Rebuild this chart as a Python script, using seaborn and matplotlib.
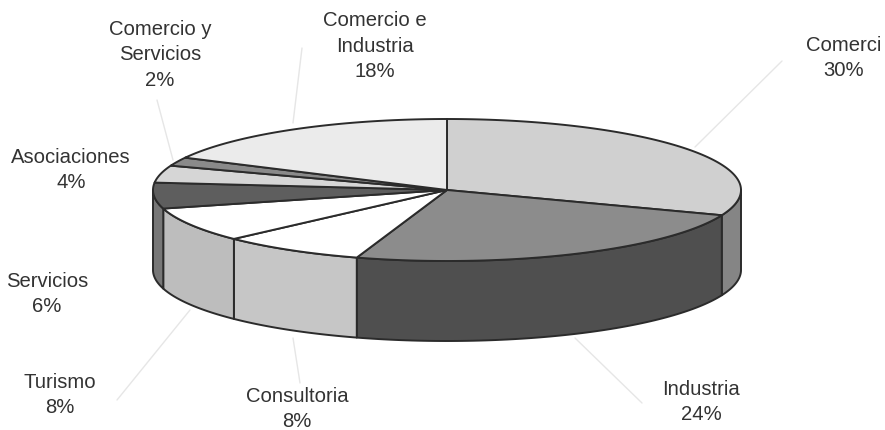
import numpy as np
import matplotlib
matplotlib.use("Agg")
import matplotlib.pyplot as plt
import seaborn as sns

# Data, clockwise from the top of the pie
categories = ["Comerci", "Industria", "Consultoria", "Turismo", "Servicios",
              "Asociaciones", "Comercio y\nServicios", "Comercio e\nIndustria"]
shares = [30, 24, 8, 8, 6, 4, 2, 18]
top_colors = ["#d0d0d0", "#8c8c8c", "#ffffff", "#ffffff", "#5e5e5e",
              "#d6d6d6", "#8a8a8a", "#ebebeb"]
side_colors = ["#858585", "#4f4f4f", "#c6c6c6", "#bdbdbd", "#777777",
               "#bbbbbb", "#777777", "#dddddd"]

# Style / layout
W, H = 885, 430
CX, CY, RX, RY, DEPTH = 447, 190, 294, 71, 80
SKEW = 3.5  # degrees of apparent rotation caused by the 3-D view
EDGE = "#2b2b2b"
label_pos = [(844, 58), (701, 402), (297, 409), (60, 395), (47, 294),
             (71, 170), (160, 55), (375, 46)]
leaders = [((782, 61), (695, 147)), ((642, 403), (575, 338)),
           ((300, 383), (293, 338)), ((117, 400), (190, 310)),
           None, None, ((157, 100), (173, 160)), ((302, 48), (293, 123))]

sns.set_theme(style="white")
plt.rcParams["font.family"] = ["Liberation Sans", "DejaVu Sans"]

fig, ax = plt.subplots(figsize=(W / 100, H / 100), dpi=100)
ax.set_position([0, 0, 1, 1])
ax.set_xlim(0, W)
ax.set_ylim(H, 0)
ax.set_axis_off()


def warp(t):
    return t + SKEW * np.sin(np.radians(t) / 2)


def rim(t, dz=0):
    r = np.radians(t)
    return CX + RX * np.sin(r), CY - RY * np.cos(r) + dz


edges = np.concatenate([[0], np.cumsum(shares)]) / sum(shares) * 360
edges = warp(edges)

# Side walls: only the front half of the rim is visible
for a, b, col in zip(edges[:-1], edges[1:], side_colors):
    lo, hi = max(a, 90), min(b, 270)
    if lo >= hi:
        continue
    t = np.linspace(lo, hi, 80)
    x, y = rim(t)
    xb, yb = rim(t, DEPTH)
    ax.fill(np.r_[x, xb[::-1]], np.r_[y, yb[::-1]], facecolor=col,
            edgecolor=EDGE, linewidth=1.4, joinstyle="round", zorder=2)

# Top faces
for a, b, col in zip(edges[:-1], edges[1:], top_colors):
    t = np.linspace(a, b, 120)
    x, y = rim(t)
    ax.fill(np.r_[CX, x], np.r_[CY, y], facecolor=col,
            edgecolor=EDGE, linewidth=1.4, joinstyle="round", zorder=3)

# Faint leader lines
for seg in leaders:
    if seg is not None:
        ax.plot(*zip(*seg), color="#e6e6e6", lw=1.0, zorder=1)

# Labels
for name, val, (lx, ly) in zip(categories, shares, label_pos):
    ax.text(lx, ly, f"{name}\n{val}%", ha="center", va="center", fontsize=14.6,
            color="#333333", linespacing=1.45, zorder=4)

fig.savefig("out.png", dpi=100, facecolor="white")
